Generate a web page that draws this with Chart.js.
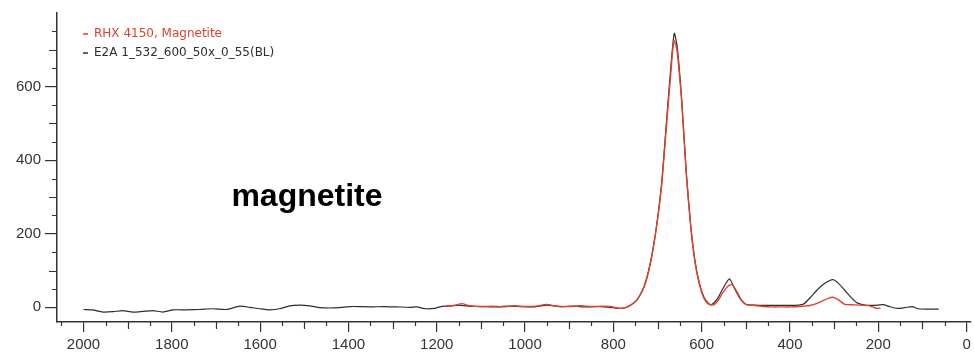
<!DOCTYPE html>
<html>
<head>
<meta charset="utf-8">
<script src="https://cdn.jsdelivr.net/npm/chart.js@4"></script>
<style>
  html, body { margin: 0; padding: 0; background: #fff; }
  #wrap { width: 974px; height: 360px; }
</style>
</head>
<body>
<div id="wrap"><canvas id="chart" width="974" height="360"></canvas></div>
<script>
// Raman shift (cm-1) and intensity
const blackShift = [2000, 1980, 1956, 1933, 1911, 1888, 1865, 1843, 1820, 1797, 1767, 1737, 1707, 1677, 1646, 1624, 1601, 1578, 1556, 1533, 1510, 1488, 1465, 1442, 1420, 1397, 1374, 1350, 1320, 1290, 1260, 1245, 1225, 1205, 1190, 1170, 1150, 1130, 1100, 1070, 1040, 1010, 980, 950, 920, 890, 860, 830, 807, 790, 775, 762, 750, 740, 730, 720, 710, 700, 690, 680, 670, 662, 655, 645, 635, 625, 615, 605, 595, 585, 578, 565, 550, 537, 525, 512, 500, 480, 460, 440, 420, 400, 380, 370, 355, 340, 325, 310, 301, 290, 275, 260, 248, 230, 210, 189, 175, 157, 140, 123, 110, 90, 75, 63];
const blackInt = [-6, -7, -13, -12, -9, -13, -11, -9, -13, -7, -7, -6, -4, -6, 3, 0, -4, -7, -4, 4, 6, 4, -1, -2, -1, 2, 2, 1, 2, 1, 0, 1, -4, -3, 2, 4, 6, 3, 2, 1, 3, 2, 1, 6, 2, 3, 1, 2, 0, -3, -2, 5, 16, 32, 58, 100, 160, 240, 345, 500, 650, 745, 705, 560, 370, 225, 125, 65, 28, 11, 7, 22, 55, 77, 50, 22, 8, 6, 5, 5, 5, 5, 6, 8, 25, 45, 62, 73, 75, 65, 45, 25, 12, 6, 5, 7, 2, -3, -1, 2, -4, -5, -5, -5];

const redShift = [1180, 1160, 1143, 1125, 1100, 1075, 1050, 1025, 1000, 975, 951, 930, 900, 875, 850, 825, 807, 795, 785, 772, 762, 750, 740, 730, 720, 710, 700, 690, 680, 670, 663, 656, 645, 635, 625, 615, 605, 595, 585, 575, 565, 552, 540, 531, 520, 510, 500, 480, 460, 440, 420, 400, 380, 370, 355, 340, 325, 312, 302, 290, 276, 260, 240, 220, 203, 195];
const redInt = [3, 5, 10, 4, 2, 3, 1, 4, 2, 3, 8, 3, 2, 4, 2, 3, 2, -1, -3, -1, 5, 15, 32, 57, 98, 158, 238, 340, 490, 635, 725, 700, 555, 365, 222, 122, 62, 25, 9, 6, 15, 40, 58, 62, 42, 20, 8, 5, 2, 1, 1, 1, 2, 3, 5, 10, 18, 25, 27, 20, 8, 7, 6, 4, -3, -2];

const seriesNames = ['RHX 4150, Magnetite', 'E2A 1_532_600_50x_0_55(BL)'];
const seriesColors = ['#e2402c', '#2e2e2e'];
const xLabels = [0, 200, 400, 600, 800, 1000, 1200, 1400, 1600, 1800, 2000];
const yLabels = [0, 200, 400, 600];
const noteText = 'magnetite';
const notePos = { x: 1665, y: 275 };

function toPoints(xs, ys) {
    return xs.map((x, i) => ({ x: x, y: ys[i] }));
}

// small ticks every 50 and 100 between the labelled ones
const minorTicks = {
    id: 'minorTicks',
    afterDraw(chart) {
        const ctx = chart.ctx;
        const xs = chart.scales.x, ys = chart.scales.y;
        const area = chart.chartArea;
        ctx.save();
        ctx.strokeStyle = '#333';
        ctx.lineWidth = 1.2;
        ctx.beginPath();
        for (let v = 50; v <= 2050; v += 50) {
            if (v % 200 === 0) continue;
            const len = v % 100 === 0 ? 7 : 4;
            const px = Math.round(xs.getPixelForValue(v)) + 0.5;
            ctx.moveTo(px, area.bottom);
            ctx.lineTo(px, area.bottom + len);
        }
        for (let v = 50; v <= 750; v += 50) {
            if (v % 200 === 0) continue;
            const len = v % 100 === 0 ? 8 : 5;
            const py = Math.round(ys.getPixelForValue(v)) + 0.5;
            ctx.moveTo(area.left, py);
            ctx.lineTo(area.left - len, py);
        }
        ctx.stroke();
        ctx.restore();
    }
};

const noteLabel = {
    id: 'noteLabel',
    afterDatasetsDraw(chart) {
        const ctx = chart.ctx;
        ctx.save();
        ctx.font = 'bold 32px "Liberation Sans", Arial, sans-serif';
        ctx.fillStyle = '#000';
        ctx.textAlign = 'left';
        ctx.textBaseline = 'alphabetic';
        ctx.fillText(noteText, chart.scales.x.getPixelForValue(notePos.x), chart.scales.y.getPixelForValue(notePos.y));
        ctx.restore();
    }
};

// move the legend a little into the plot, like the original
const legendShift = {
    id: 'legendShift',
    afterLayout(chart) {
        if (chart.legend) {
            chart.legend.left = chart.chartArea.left + 19;
            chart.legend.top = chart.chartArea.top + 8;
        }
    }
};

new Chart(document.getElementById('chart'), {
    type: 'line',
    data: {
        datasets: [{
            label: seriesNames[0],
            data: toPoints(redShift, redInt),
            borderColor: seriesColors[0],
            backgroundColor: seriesColors[0],
            borderWidth: 1.4,
            pointRadius: 0,
            tension: 0.2,
            fill: false
        }, {
            label: seriesNames[1],
            data: toPoints(blackShift, blackInt),
            borderColor: seriesColors[1],
            backgroundColor: seriesColors[1],
            borderWidth: 1.2,
            pointRadius: 0,
            tension: 0.2,
            fill: false
        }]
    },
    options: {
        responsive: false,
        animation: false,
        layout: { padding: { top: 3, right: 3, left: 0, bottom: 0 } },
        plugins: {
            tooltip: { enabled: false },
            legend: {
                position: 'chartArea',
                align: 'start',
                labels: {
                    boxWidth: 5,
                    boxHeight: 1.5,
                    padding: 7,
                    font: { family: '"DejaVu Sans", sans-serif', size: 12 },
                    generateLabels(chart) {
                        return chart.data.datasets.map((ds, i) => ({
                            text: ds.label,
                            fillStyle: ds.borderColor,
                            strokeStyle: ds.borderColor,
                            lineWidth: 0,
                            fontColor: ds.borderColor,
                            datasetIndex: i
                        }));
                    }
                }
            }
        },
        scales: {
            x: {
                type: 'linear',
                reverse: true,
                min: -10,
                max: 2060,
                afterBuildTicks(scale) {
                    scale.ticks = xLabels.map(v => ({ value: v }));
                },
                afterFit(scale) { scale.height = 38; },
                border: { display: true, color: '#333', width: 1.5 },
                grid: { drawOnChartArea: false, drawTicks: true, tickLength: 10, color: '#333', lineWidth: 1.2 },
                ticks: {
                    padding: 4,
                    maxRotation: 0,
                    autoSkip: false,
                    color: '#333',
                    font: { family: '"Liberation Sans", Arial, sans-serif', size: 15 },
                    callback: v => String(v)
                }
            },
            y: {
                min: -40,
                max: 800,
                afterBuildTicks(scale) {
                    scale.ticks = yLabels.map(v => ({ value: v }));
                },
                afterFit(scale) { scale.width = 57; },
                border: { display: true, color: '#333', width: 1.5 },
                grid: { drawOnChartArea: false, drawTicks: true, tickLength: 12, color: '#333', lineWidth: 1.2 },
                ticks: {
                    padding: 4,
                    autoSkip: false,
                    color: '#333',
                    font: { family: '"Liberation Sans", Arial, sans-serif', size: 15 },
                    callback: v => String(v)
                }
            }
        }
    },
    plugins: [minorTicks, noteLabel, legendShift]
});
</script>
</body>
</html>
